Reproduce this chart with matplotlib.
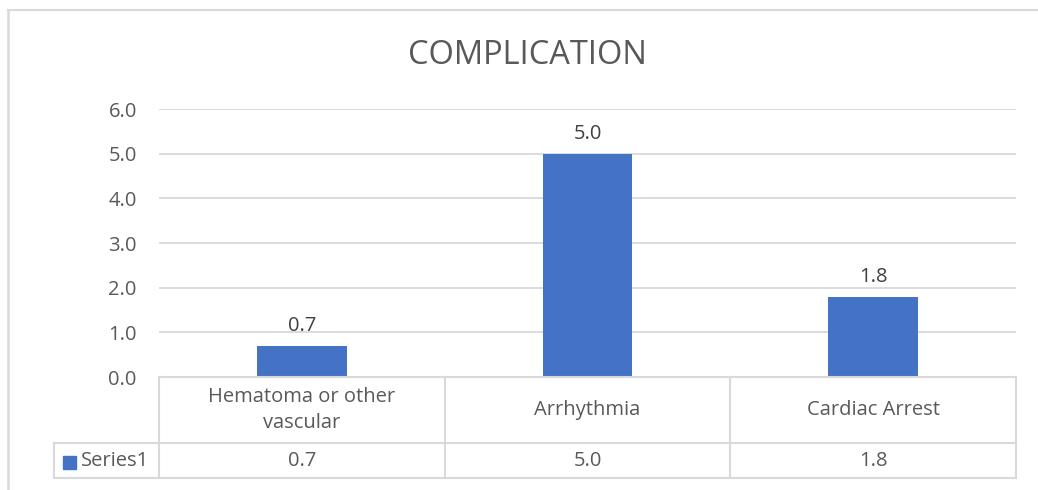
import matplotlib
matplotlib.use("Agg")
import matplotlib.pyplot as plt
from matplotlib.lines import Line2D
from matplotlib.patches import Rectangle

# ---------------- data
categories = ["Hematoma or other\nvascular", "Arrhythmia", "Cardiac Arrest"]
values = [0.7, 5.0, 1.8]
series_name = "Series1"
title = "COMPLICATION"
y_ticks = [0, 1, 2, 3, 4, 5, 6]

plt.rcParams['font.family'] = ['Open Sans', 'DejaVu Sans']
W, H = 1038, 490
txt_col = "#595959"
grid_col = "#d9d9d9"
bar_col = "#4472c4"
fs = 14.5

fig = plt.figure(figsize=(W / 100, H / 100), dpi=100)

# pixel -> figure coords
def fx(x):
    return x / W
def fy(y):
    return 1 - y / H

# plot area in pixels
L, R, T, B = 159, 1016, 109, 377
ax = fig.add_axes([fx(L), fy(B), fx(R) - fx(L), fy(T) - fy(B)])
ax.bar(range(len(values)), values, width=0.315, color=bar_col, zorder=3)
ax.set_xlim(-0.5, len(values) - 0.5)
ax.set_ylim(0, 6)
ax.set_yticks(y_ticks)
ax.set_yticklabels(["%.1f" % t for t in y_ticks], color=txt_col, fontsize=fs)
ax.tick_params(axis="y", length=0, pad=16)
ax.set_xticks([])
ax.grid(axis="y", color=grid_col, linewidth=1.3, zorder=0)
for s in ax.spines.values():
    s.set_visible(False)
for i, v in enumerate(values):
    ax.annotate("%.1f" % v, (i, v), xytext=(0, 7), textcoords="offset points",
                ha="center", va="bottom", fontsize=fs, color="#404040")

fig.text(fx(527), fy(55), title, ha="center", va="center",
         fontsize=23.5, color=txt_col)

# ---------------- data table under the chart
cols = [L + (R - L) * k / len(values) for k in range(len(values) + 1)]
row_top, row_mid, row_bot = 377, 443, 478
tab_left = 54

def hline(x0, x1, y):
    fig.add_artist(Line2D([fx(x0), fx(x1)], [fy(y), fy(y)], color=grid_col, lw=1.5))
def vline(x, y0, y1):
    fig.add_artist(Line2D([fx(x), fx(x)], [fy(y0), fy(y1)], color=grid_col, lw=1.5))

hline(L, R, row_top)
hline(tab_left, R, row_mid)
hline(tab_left, R, row_bot)
vline(tab_left, row_mid, row_bot)
for c in cols:
    vline(c, row_top, row_bot)

for i, cat in enumerate(categories):
    cx = (cols[i] + cols[i + 1]) / 2
    fig.text(fx(cx), fy((row_top + row_mid) / 2), cat, ha="center", va="center",
             fontsize=fs, color=txt_col, linespacing=1.45)
    fig.text(fx(cx), fy((row_mid + row_bot) / 2), "%.1f" % values[i], ha="center",
             va="center", fontsize=fs, color=txt_col)

fig.add_artist(Rectangle((fx(63), fy(469)), fx(13), fy(456) - fy(469), color=bar_col))
fig.text(fx(81), fy((row_mid + row_bot) / 2), series_name, ha="left", va="center",
         fontsize=fs, color=txt_col)

# chart frame
fig.add_artist(Line2D([fx(8), fx(8)], [fy(10), 0], color=grid_col, lw=1.8))
fig.add_artist(Line2D([fx(8), 1], [fy(10), fy(10)], color=grid_col, lw=1.5))

fig.savefig("out.png", dpi=100, facecolor="white")
